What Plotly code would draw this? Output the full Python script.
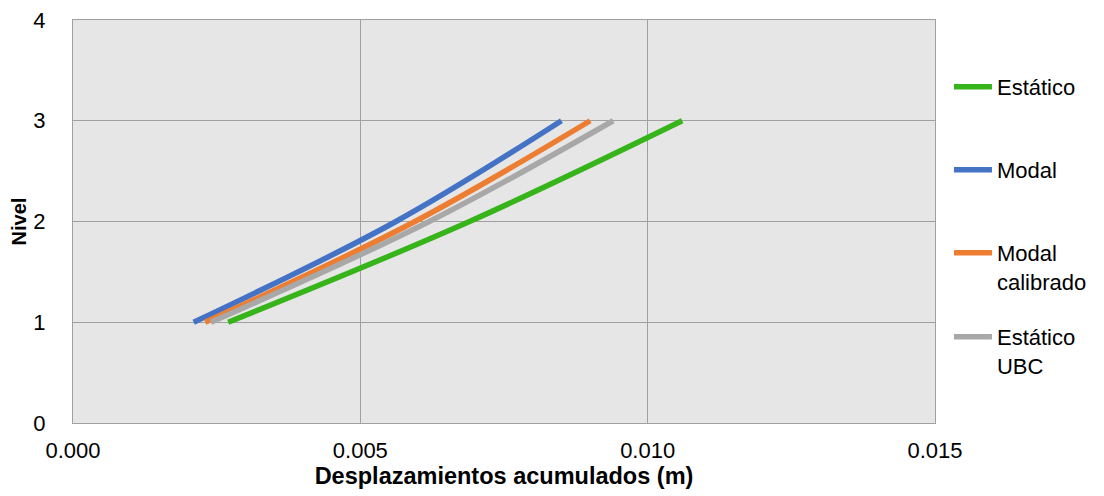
import plotly.graph_objects as go

niveles = [1, 2, 3]
estatico = [0.0027, 0.0069, 0.0106]
modal = [0.0021, 0.00562, 0.0085]
modal_cal = [0.0023, 0.00595, 0.0090]
estatico_ubc = [0.0024, 0.0062, 0.0094]

series = [
    ("Estático", estatico, "#36b41a", "legend2"),
    ("Modal", modal, "#4472c4", "legend3"),
    ("Modal<br>calibrado", modal_cal, "#ed7d31", "legend4"),
    ("Estático<br>UBC", estatico_ubc, "#a8a8a8", "legend5"),
]

FONT = "Liberation Sans, Arial, sans-serif"

fig = go.Figure()
for name, xs, color, lg in series:
    fig.add_trace(go.Scatter(
        x=xs, y=niveles, mode="lines", name=name,
        line=dict(color=color, width=5.5, shape="spline"),
        legend=lg, showlegend=True,
    ))

# page has an 8px body margin; compensate so the plot lands where the reference has it
OFF = 8
W, Hfig = 1104 - OFF, 496 - OFF
L, R, T, B = 73 - OFF, 166, 20 - OFF, 73
PW = W - L - R
PH = Hfig - T - B
plot_bottom = Hfig - B

def ly(center_px):
    return (plot_bottom - (center_px - OFF - 21)) / PH

def lx(px):
    return (px - OFF - L) / PW

leg_common = dict(x=lx(952), xanchor="left", yanchor="top", valign="top",
                  itemwidth=38,
                  font=dict(family=FONT, size=22, color="#000"),
                  bgcolor="rgba(0,0,0,0)", visible=True)

fig.update_layout(
    width=W, height=Hfig,
    margin=dict(l=L, r=R, t=T, b=B),
    paper_bgcolor="white",
    plot_bgcolor="#e6e6e6",
    showlegend=True,
    legend2=dict(y=ly(87), **leg_common),
    legend3=dict(y=ly(170), **leg_common),
    legend4=dict(y=ly(253), **leg_common),
    legend5=dict(y=ly(337), **leg_common),
    xaxis=dict(
        range=[0, 0.015], tickvals=[0, 0.005, 0.010, 0.015],
        ticktext=["0.000", "0.005", "0.010", "0.015"],
        showgrid=True, gridcolor="#a0a0a0", gridwidth=1,
        showline=True, linecolor="#a0a0a0", mirror=True, zeroline=False,
        ticks="", ticklabelstandoff=8, automargin=False, ticklabeloverflow="allow",
        tickfont=dict(family=FONT, size=22, color="#000"),
        title=dict(text="<b>Desplazamientos acumulados (m)</b>",
                   font=dict(family=FONT, size=23.5, color="#000"),
                   standoff=4),
    ),
    yaxis=dict(
        range=[0, 4], tickvals=[0, 1, 2, 3, 4],
        showgrid=True, gridcolor="#a0a0a0", gridwidth=1,
        showline=True, linecolor="#a0a0a0", mirror=True, zeroline=False,
        ticks="", ticklabelstandoff=22, automargin=False, ticklabeloverflow="allow",
        tickfont=dict(family=FONT, size=22, color="#000"),
        title=dict(text="<b>Nivel</b>",
                   font=dict(family=FONT, size=20, color="#000"),
                   standoff=4),
    ),
)

fig.write_html("out.html")
